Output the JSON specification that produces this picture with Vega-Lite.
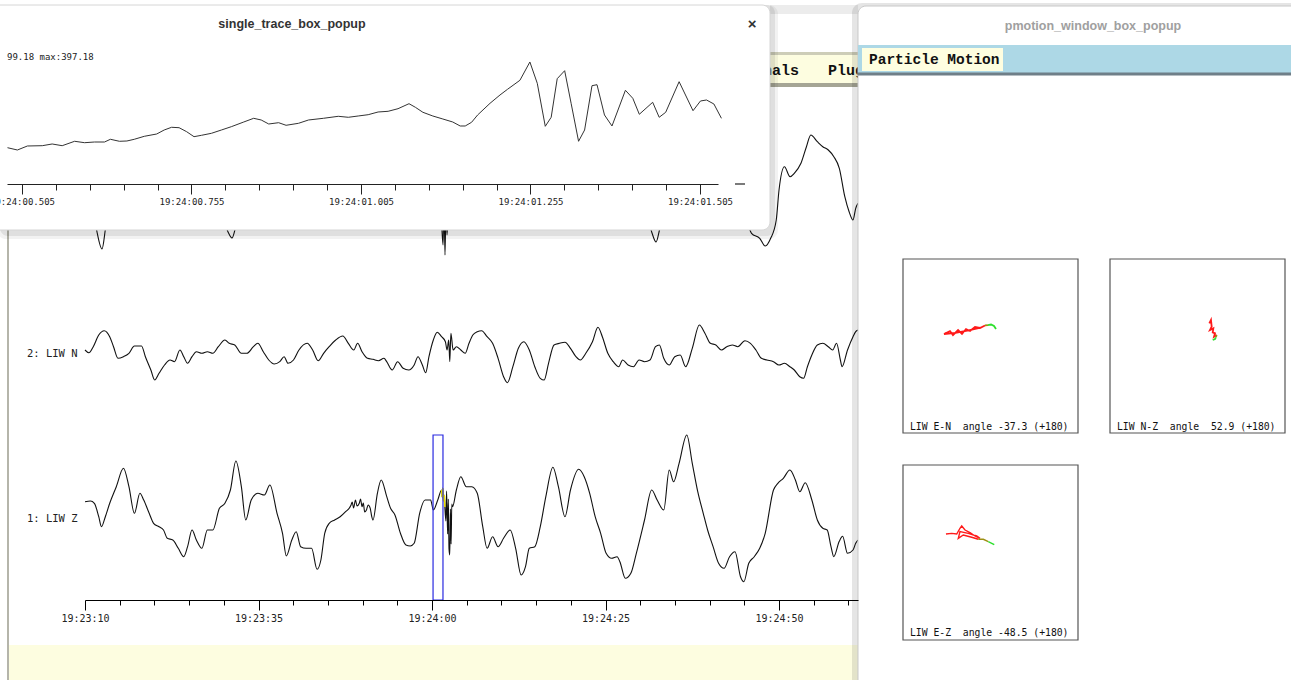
{
"$schema": "https://vega.github.io/schema/vega-lite/v6.json",
"width": 1291, "height": 680,
"autosize": {"type": "none"},
"padding": 0,
"background": "#ffffff",
"config": {"view": {"stroke": null}, "font": "Liberation Sans"},
"data": {"values": [{}]},
"datasets": {
"z": [{"t":0,"amp":17.3},{"t":0.79,"amp":18},{"t":1.35,"amp":15.7},{"t":1.98,"amp":2.3},{"t":2.37,"amp":-7.7},{"t":2.93,"amp":2.3},{"t":3.56,"amp":15.7},{"t":4.51,"amp":32.3},{"t":5.54,"amp":50.7},{"t":6.33,"amp":32.3},{"t":7.12,"amp":5.7},{"t":7.91,"amp":25.7},{"t":8.46,"amp":19},{"t":9.25,"amp":5.7},{"t":9.88,"amp":-4.3},{"t":10.67,"amp":-7.7},{"t":11.31,"amp":-11},{"t":11.86,"amp":-19.3},{"t":12.65,"amp":-21},{"t":13.44,"amp":-29.3},{"t":14.23,"amp":-37.7},{"t":14.78,"amp":-27.7},{"t":15.42,"amp":-11},{"t":16.05,"amp":-21},{"t":16.84,"amp":-29.3},{"t":17.63,"amp":-11},{"t":18.42,"amp":-11},{"t":19.37,"amp":10.7},{"t":20.16,"amp":15.7},{"t":20.95,"amp":29},{"t":21.74,"amp":58},{"t":22.53,"amp":32.3},{"t":23.16,"amp":-1},{"t":23.95,"amp":19},{"t":24.9,"amp":25.7},{"t":25.85,"amp":24},{"t":26.64,"amp":34},{"t":27.67,"amp":5.7},{"t":28.46,"amp":-14.3},{"t":29.01,"amp":-37},{"t":29.8,"amp":-21},{"t":30.43,"amp":-12.7},{"t":31.07,"amp":-27.7},{"t":31.86,"amp":-29.3},{"t":32.65,"amp":-29.3},{"t":33.44,"amp":-50.3},{"t":33.99,"amp":-41},{"t":34.54,"amp":-14.3},{"t":35.18,"amp":-4.3},{"t":35.97,"amp":-1},{"t":36.76,"amp":2.3},{"t":37.55,"amp":7.3},{"t":38.34,"amp":14},{"t":38.5,"amp":17},{"t":38.7,"amp":11},{"t":38.97,"amp":19},{"t":39.2,"amp":13},{"t":39.52,"amp":15.7},{"t":39.7,"amp":20},{"t":39.92,"amp":12.3},{"t":40.1,"amp":16},{"t":40.3,"amp":7},{"t":40.55,"amp":9},{"t":40.8,"amp":14},{"t":41.1,"amp":10.7},{"t":41.3,"amp":3},{"t":41.5,"amp":-1},{"t":42.13,"amp":25.7},{"t":42.68,"amp":39},{"t":43.48,"amp":22.3},{"t":44.03,"amp":10.7},{"t":44.66,"amp":4},{"t":45.45,"amp":-14.3},{"t":46.24,"amp":-26},{"t":46.87,"amp":-27},{"t":47.43,"amp":-24.3},{"t":48.22,"amp":5.7},{"t":49.01,"amp":19},{"t":49.8,"amp":19},{"t":50.19,"amp":9},{"t":50.83,"amp":19},{"t":51.38,"amp":29},{"t":51.45,"amp":22},{"t":51.55,"amp":31},{"t":51.65,"amp":18},{"t":51.77,"amp":24},{"t":51.85,"amp":12},{"t":52.0,"amp":-2},{"t":52.1,"amp":28},{"t":52.25,"amp":-15},{"t":52.35,"amp":20},{"t":52.45,"amp":-30},{"t":52.56,"amp":-36},{"t":52.65,"amp":10},{"t":52.75,"amp":-25},{"t":52.85,"amp":15},{"t":52.96,"amp":12.3},{"t":53.51,"amp":29},{"t":54.15,"amp":42.3},{"t":54.94,"amp":32.3},{"t":55.73,"amp":32.3},{"t":56.52,"amp":25.7},{"t":57.31,"amp":-7.7},{"t":57.94,"amp":-29.3},{"t":58.73,"amp":-17.7},{"t":59.52,"amp":-27.7},{"t":60.31,"amp":-19.3},{"t":61.26,"amp":-11},{"t":62.05,"amp":-29.3},{"t":62.84,"amp":-56},{"t":63.47,"amp":-47.7},{"t":64.02,"amp":-29.3},{"t":64.81,"amp":-27.7},{"t":65.6,"amp":-7.7},{"t":66.4,"amp":22.3},{"t":67.42,"amp":51.7},{"t":68.21,"amp":32.3},{"t":69.16,"amp":2.3},{"t":69.95,"amp":29},{"t":71.14,"amp":49.7},{"t":71.93,"amp":42.3},{"t":72.72,"amp":25.7},{"t":73.51,"amp":2.3},{"t":74.3,"amp":-14.3},{"t":75.09,"amp":-34.3},{"t":75.88,"amp":-39.3},{"t":76.67,"amp":-37.7},{"t":77.07,"amp":-42.7},{"t":77.86,"amp":-59.3},{"t":78.65,"amp":-54.3},{"t":79.44,"amp":-34.3},{"t":80.62,"amp":-1},{"t":81.65,"amp":29},{"t":82.44,"amp":19},{"t":83.39,"amp":9},{"t":84.18,"amp":49},{"t":84.81,"amp":37.3},{"t":85.6,"amp":55.7},{"t":86.71,"amp":84},{"t":87.5,"amp":55.7},{"t":88.29,"amp":27.3},{"t":89.08,"amp":5.7},{"t":89.71,"amp":-11},{"t":90.5,"amp":-27.7},{"t":91.29,"amp":-44.3},{"t":92.08,"amp":-49.3},{"t":92.87,"amp":-37.7},{"t":93.66,"amp":-32.7},{"t":94.45,"amp":-57.7},{"t":94.93,"amp":-62.7},{"t":95.64,"amp":-44.3},{"t":96.43,"amp":-37.7},{"t":97.22,"amp":-29.3},{"t":98.01,"amp":-14.3},{"t":99.2,"amp":29},{"t":99.83,"amp":35.7},{"t":100.62,"amp":40.7},{"t":101.57,"amp":49},{"t":102.36,"amp":39},{"t":102.99,"amp":27.3},{"t":103.78,"amp":36.3},{"t":104.73,"amp":19},{"t":105.52,"amp":-1},{"t":106.31,"amp":-9.3},{"t":106.94,"amp":-11},{"t":107.49,"amp":-27.7},{"t":107.89,"amp":-37.7},{"t":108.68,"amp":-22.3},{"t":109.16,"amp":-17.3},{"t":109.87,"amp":-34.3},{"t":110.66,"amp":-31},{"t":111.05,"amp":-24.3},{"t":111.37,"amp":-21}],
"n": [{"t":0,"amp":4},{"t":0.56,"amp":1.3},{"t":1.19,"amp":7.3},{"t":1.98,"amp":19},{"t":2.77,"amp":23.3},{"t":3.56,"amp":17.3},{"t":4.11,"amp":7.3},{"t":4.75,"amp":-4.3},{"t":5.54,"amp":-2.7},{"t":6.33,"amp":0.7},{"t":7.12,"amp":8},{"t":8.14,"amp":8},{"t":8.7,"amp":-2.7},{"t":9.49,"amp":-16},{"t":10.04,"amp":-26},{"t":10.67,"amp":-19.3},{"t":11.46,"amp":-11},{"t":12.25,"amp":-6},{"t":12.89,"amp":-7.7},{"t":13.68,"amp":4},{"t":14.23,"amp":-2.7},{"t":14.78,"amp":-9.3},{"t":15.42,"amp":-2.7},{"t":16.05,"amp":2.3},{"t":16.84,"amp":0.7},{"t":17.63,"amp":2.3},{"t":18.42,"amp":0.7},{"t":19.21,"amp":7.3},{"t":20.16,"amp":14},{"t":20.79,"amp":10.7},{"t":21.58,"amp":9},{"t":22.53,"amp":0.7},{"t":23.32,"amp":0.7},{"t":24.27,"amp":7.3},{"t":24.9,"amp":10.7},{"t":25.69,"amp":2.3},{"t":26.48,"amp":-6},{"t":27.27,"amp":-10},{"t":28.06,"amp":-7.7},{"t":28.69,"amp":-2.7},{"t":29.25,"amp":-9.3},{"t":30.04,"amp":-6},{"t":30.83,"amp":4},{"t":32.01,"amp":10.7},{"t":32.8,"amp":4},{"t":33.59,"amp":-6.7},{"t":34.38,"amp":0.7},{"t":35.18,"amp":7.3},{"t":36.12,"amp":14},{"t":37.15,"amp":18},{"t":37.94,"amp":10.7},{"t":38.73,"amp":4},{"t":39.28,"amp":10.7},{"t":39.92,"amp":2.3},{"t":40.71,"amp":-4.3},{"t":41.5,"amp":-5.3},{"t":42.29,"amp":-6.7},{"t":43.08,"amp":-4.3},{"t":43.47,"amp":-7.7},{"t":44.26,"amp":-16},{"t":45.05,"amp":-7.7},{"t":45.84,"amp":-14.3},{"t":46.64,"amp":-16},{"t":47.43,"amp":-11},{"t":47.98,"amp":-2.7},{"t":48.61,"amp":-11},{"t":49.09,"amp":-18.7},{"t":49.56,"amp":-2.7},{"t":50.19,"amp":14},{"t":50.75,"amp":21.7},{"t":51.38,"amp":17.3},{"t":51.93,"amp":12.3},{"t":52.17,"amp":4},{"t":52.41,"amp":14},{"t":52.56,"amp":-7.7},{"t":52.72,"amp":20.7},{"t":53.04,"amp":4},{"t":53.51,"amp":7.3},{"t":54.15,"amp":4},{"t":54.78,"amp":0.7},{"t":55.33,"amp":10.7},{"t":55.88,"amp":19},{"t":56.52,"amp":22.3},{"t":57.15,"amp":23.3},{"t":57.94,"amp":17.3},{"t":58.73,"amp":10.7},{"t":59.52,"amp":-4.3},{"t":60.31,"amp":-22.7},{"t":60.86,"amp":-28.7},{"t":61.65,"amp":-12.7},{"t":62.44,"amp":5.7},{"t":63.23,"amp":12.3},{"t":64.02,"amp":4},{"t":64.81,"amp":-12.7},{"t":65.6,"amp":-24.3},{"t":66.16,"amp":-26},{"t":66.79,"amp":-9.3},{"t":67.58,"amp":9},{"t":68.37,"amp":10.7},{"t":69.16,"amp":11.7},{"t":69.95,"amp":5.7},{"t":70.74,"amp":-2.7},{"t":71.37,"amp":-6},{"t":72.16,"amp":0.7},{"t":73.12,"amp":12.3},{"t":73.91,"amp":26.7},{"t":74.54,"amp":17.3},{"t":75.33,"amp":0.7},{"t":76.12,"amp":-7.7},{"t":76.91,"amp":-12.7},{"t":77.46,"amp":-6},{"t":78.25,"amp":-11},{"t":79.04,"amp":-12.7},{"t":79.83,"amp":-6},{"t":80.62,"amp":-7.7},{"t":81.41,"amp":-6},{"t":82.2,"amp":7.3},{"t":82.76,"amp":9},{"t":83.39,"amp":-4.3},{"t":84.18,"amp":-11},{"t":84.97,"amp":-2.7},{"t":85.76,"amp":-1},{"t":86.55,"amp":-12.7},{"t":87.5,"amp":5.7},{"t":88.52,"amp":29},{"t":89.32,"amp":20.7},{"t":90.11,"amp":10.7},{"t":90.9,"amp":9},{"t":91.69,"amp":4},{"t":92.48,"amp":7.3},{"t":93.27,"amp":9},{"t":94.06,"amp":7.3},{"t":95.09,"amp":13.3},{"t":95.88,"amp":10.7},{"t":96.67,"amp":4},{"t":97.46,"amp":-4.3},{"t":98.25,"amp":-6},{"t":99.2,"amp":-7.7},{"t":99.99,"amp":-11},{"t":100.78,"amp":-9.3},{"t":101.57,"amp":-12.7},{"t":102.2,"amp":-16},{"t":102.99,"amp":-22.7},{"t":103.54,"amp":-24.3},{"t":104.09,"amp":-12.7},{"t":104.73,"amp":-1},{"t":105.52,"amp":9},{"t":106.31,"amp":10.7},{"t":107.1,"amp":7.3},{"t":107.73,"amp":4},{"t":108.29,"amp":10.7},{"t":108.84,"amp":-6},{"t":109.08,"amp":-12.7},{"t":109.87,"amp":4},{"t":110.66,"amp":17.3},{"t":111.05,"amp":22.3},{"t":111.37,"amp":24}],
"e": [{"t":0,"amp":0},{"t":1.01,"amp":-10},{"t":1.73,"amp":-42},{"t":2.45,"amp":-59},{"t":3.03,"amp":-35},{"t":4.32,"amp":0},{"t":7.93,"amp":15},{"t":12.25,"amp":5},{"t":16.57,"amp":-10},{"t":19.74,"amp":-25},{"t":20.61,"amp":-42},{"t":21.18,"amp":-48},{"t":21.76,"amp":-36},{"t":23.78,"amp":-5},{"t":29.54,"amp":10},{"t":35.3,"amp":15},{"t":41.07,"amp":0},{"t":46.83,"amp":5},{"t":50.43,"amp":-10},{"t":51.3,"amp":-25},{"t":51.59,"amp":-55},{"t":51.73,"amp":-10},{"t":51.87,"amp":-65},{"t":52.02,"amp":-15},{"t":52.16,"amp":-45},{"t":52.45,"amp":-5},{"t":55.48,"amp":20},{"t":61.24,"amp":10},{"t":67.0,"amp":15},{"t":72.77,"amp":10},{"t":78.53,"amp":0},{"t":80.98,"amp":-25},{"t":81.7,"amp":-43},{"t":82.28,"amp":-52},{"t":82.85,"amp":-38},{"t":85.73,"amp":10},{"t":91.5,"amp":30},{"t":95.1,"amp":-25},{"t":96.04,"amp":-43.3},{"t":97.22,"amp":-48.3},{"t":98.01,"amp":-56},{"t":98.8,"amp":-48.3},{"t":99.6,"amp":-30},{"t":100.0,"amp":0},{"t":100.78,"amp":23.3},{"t":101.59,"amp":13.3},{"t":102.2,"amp":16.7},{"t":103.16,"amp":26.7},{"t":103.95,"amp":43.3},{"t":104.58,"amp":55},{"t":105.52,"amp":48.3},{"t":106.31,"amp":43.3},{"t":107.1,"amp":40},{"t":107.9,"amp":33.3},{"t":108.69,"amp":21.7},{"t":109.48,"amp":-6.7},{"t":110.1,"amp":-21.7},{"t":110.66,"amp":-30},{"t":111.05,"amp":-18.3},{"t":111.38,"amp":-13.3}],
"sel": [{"start": 50.15, "end": 51.58}],
"popup": [{"t":0.4836,"amp":-86.2},{"t":0.4982,"amp":-99.2},{"t":0.513,"amp":-76.6},{"t":0.5349,"amp":-74.9},{"t":0.5495,"amp":-65.3},{"t":0.5643,"amp":-74.9},{"t":0.5826,"amp":-50.1},{"t":0.5973,"amp":-58.0},{"t":0.6119,"amp":-54.1},{"t":0.6267,"amp":-54.1},{"t":0.6354,"amp":-38.8},{"t":0.6487,"amp":-50.1},{"t":0.6597,"amp":-48.4},{"t":0.6706,"amp":-38.8},{"t":0.6854,"amp":-21.9},{"t":0.7037,"amp":-8.9},{"t":0.7147,"amp":13.6},{"t":0.7256,"amp":28.9},{"t":0.7367,"amp":26.6},{"t":0.7478,"amp":4.1},{"t":0.7587,"amp":-24.1},{"t":0.7698,"amp":-16.2},{"t":0.7844,"amp":-5.0},{"t":0.7991,"amp":13.6},{"t":0.8137,"amp":32.3},{"t":0.8321,"amp":58.8},{"t":0.8467,"amp":79.6},{"t":0.8578,"amp":70.1},{"t":0.8689,"amp":47.5},{"t":0.8835,"amp":54.8},{"t":0.8945,"amp":40.2},{"t":0.9128,"amp":51.4},{"t":0.9276,"amp":70.1},{"t":0.9495,"amp":79.6},{"t":0.9715,"amp":90.9},{"t":0.9863,"amp":85.3},{"t":1.0009,"amp":92.6},{"t":1.0156,"amp":99.9},{"t":1.0302,"amp":115.2},{"t":1.045,"amp":119.1},{"t":1.0596,"amp":133.8},{"t":1.0758,"amp":162.0},{"t":1.0852,"amp":141.7},{"t":1.0963,"amp":113.5},{"t":1.1109,"amp":92.6},{"t":1.1257,"amp":75.7},{"t":1.1403,"amp":58.8},{"t":1.1513,"amp":36.2},{"t":1.1587,"amp":36.2},{"t":1.1681,"amp":57.1},{"t":1.177,"amp":98.3},{"t":1.1953,"amp":164.2},{"t":1.21,"amp":211.1},{"t":1.2211,"amp":243.2},{"t":1.2394,"amp":294.0},{"t":1.2541,"amp":397.2},{"t":1.265,"amp":277.1},{"t":1.2768,"amp":34.5},{"t":1.2855,"amp":85.3},{"t":1.2944,"amp":303.0},{"t":1.3054,"amp":348.1},{"t":1.3149,"amp":164.2},{"t":1.3259,"amp":-50.1},{"t":1.3348,"amp":13.6},{"t":1.3457,"amp":263.5},{"t":1.3531,"amp":269.2},{"t":1.3641,"amp":98.3},{"t":1.3752,"amp":36.2},{"t":1.395,"amp":237.6},{"t":1.4059,"amp":192.4},{"t":1.4155,"amp":102.2},{"t":1.4352,"amp":169.9},{"t":1.4448,"amp":85.3},{"t":1.4544,"amp":113.5},{"t":1.4742,"amp":286.1},{"t":1.4947,"amp":122.5},{"t":1.5057,"amp":177.2},{"t":1.5146,"amp":182.9},{"t":1.5255,"amp":160.3},{"t":1.5366,"amp":79.6}],
"pm": [
{"box":"b1","seg":"red","i":0,"x":-0.10,"y":0.215},{"box":"b1","seg":"red","i":1,"x":-0.25,"y":0.18},{"box":"b1","seg":"red","i":2,"x":-0.40,"y":0.15},{"box":"b1","seg":"red","i":3,"x":-0.531,"y":0.138},{"box":"b1","seg":"red","i":4,"x":-0.463,"y":0.172},{"box":"b1","seg":"red","i":5,"x":-0.429,"y":0.126},{"box":"b1","seg":"red","i":6,"x":-0.371,"y":0.184},{"box":"b1","seg":"red","i":7,"x":-0.326,"y":0.138},{"box":"b1","seg":"red","i":8,"x":-0.28,"y":0.195},{"box":"b1","seg":"red","i":9,"x":-0.234,"y":0.172},{"box":"b1","seg":"red","i":10,"x":-0.177,"y":0.218},{"box":"b1","seg":"red","i":11,"x":-0.12,"y":0.207},{"box":"b1","seg":"red","i":12,"x":-0.063,"y":0.236},
{"box":"b1","seg":"mid","i":12,"x":-0.063,"y":0.236},{"box":"b1","seg":"mid","i":13,"x":-0.029,"y":0.241},
{"box":"b1","seg":"green","i":13,"x":-0.029,"y":0.241},{"box":"b1","seg":"green","i":14,"x":0.006,"y":0.247},{"box":"b1","seg":"green","i":15,"x":0.04,"y":0.23},{"box":"b1","seg":"green","i":16,"x":0.063,"y":0.195},
{"box":"b2","seg":"red","i":0,"x":0.135,"y":0.261},{"box":"b2","seg":"red","i":1,"x":0.154,"y":0.299},{"box":"b2","seg":"red","i":2,"x":0.162,"y":0.222},{"box":"b2","seg":"red","i":3,"x":0.143,"y":0.184},{"box":"b2","seg":"red","i":4,"x":0.181,"y":0.203},{"box":"b2","seg":"red","i":5,"x":0.174,"y":0.157},{"box":"b2","seg":"red","i":6,"x":0.2,"y":0.146},{"box":"b2","seg":"red","i":7,"x":0.189,"y":0.107},{"box":"b2","seg":"red","i":8,"x":0.219,"y":0.126},
{"box":"b2","seg":"mid","i":8,"x":0.219,"y":0.126},{"box":"b2","seg":"mid","i":9,"x":0.21,"y":0.10},
{"box":"b2","seg":"green","i":9,"x":0.21,"y":0.10},{"box":"b2","seg":"green","i":10,"x":0.2,"y":0.08},{"box":"b2","seg":"green","i":11,"x":0.174,"y":0.069},
{"box":"b3","seg":"red","i":0,"x":-0.509,"y":0.211},{"box":"b3","seg":"red","i":1,"x":-0.443,"y":0.219},{"box":"b3","seg":"red","i":2,"x":-0.386,"y":0.211},{"box":"b3","seg":"red","i":3,"x":-0.349,"y":0.277},{"box":"b3","seg":"red","i":4,"x":-0.329,"y":0.303},{"box":"b3","seg":"red","i":5,"x":-0.291,"y":0.257},{"box":"b3","seg":"red","i":6,"x":-0.234,"y":0.226},{"box":"b3","seg":"red","i":7,"x":-0.177,"y":0.189},{"box":"b3","seg":"red","i":8,"x":-0.12,"y":0.162},{"box":"b3","seg":"red","i":9,"x":-0.158,"y":0.189},{"box":"b3","seg":"red","i":10,"x":-0.254,"y":0.219},{"box":"b3","seg":"red","i":11,"x":-0.349,"y":0.238},{"box":"b3","seg":"red","i":12,"x":-0.368,"y":0.162},{"box":"b3","seg":"red","i":13,"x":-0.311,"y":0.2},{"box":"b3","seg":"red","i":14,"x":-0.215,"y":0.174},{"box":"b3","seg":"red","i":15,"x":-0.139,"y":0.151},
{"box":"b3","seg":"mid","i":15,"x":-0.139,"y":0.151},{"box":"b3","seg":"mid","i":16,"x":-0.082,"y":0.151},{"box":"b3","seg":"mid","i":17,"x":-0.025,"y":0.123},
{"box":"b3","seg":"green","i":17,"x":-0.025,"y":0.123},{"box":"b3","seg":"green","i":18,"x":0.014,"y":0.105},{"box":"b3","seg":"green","i":19,"x":0.043,"y":0.089}
]
},
"resolve": {"scale": {"x": "independent", "y": "independent", "color": "independent"}},
"layer": [
{
"resolve": {"scale": {"y": "independent"}},
"layer": [
{"layer": [
{"mark": {"type": "rect", "color": "#ececec"}, "encoding": {"x": {"datum": 98.7, "type": "quantitative", "scale": {"domain": [0, 111.38], "range": [85, 858], "nice": false, "zero": false}, "axis": null}, "x2": {"datum": 111.38}, "y": {"datum": 514, "type": "quantitative", "scale": {"domain": [-100, 100], "range": [619, 419], "nice": false, "zero": false}, "axis": null}, "y2": {"datum": 505}}},
{"mark": {"type": "rect", "color": "#cdcdb8"}, "encoding": {"x": {"datum": 98.7, "type": "quantitative", "scale": {"domain": [0, 111.38], "range": [85, 858], "nice": false, "zero": false}, "axis": null}, "x2": {"datum": 111.38}, "y": {"datum": 467, "type": "quantitative", "scale": {"domain": [-100, 100], "range": [619, 419], "nice": false, "zero": false}, "axis": null}, "y2": {"datum": 464}}},
{"mark": {"type": "rect", "color": "#fdfde0"}, "encoding": {"x": {"datum": 98.7, "type": "quantitative", "scale": {"domain": [0, 111.38], "range": [85, 858], "nice": false, "zero": false}, "axis": null}, "x2": {"datum": 111.38}, "y": {"datum": 464, "type": "quantitative", "scale": {"domain": [-100, 100], "range": [619, 419], "nice": false, "zero": false}, "axis": null}, "y2": {"datum": 436}}},
{"mark": {"type": "rect", "color": "#a5a595"}, "encoding": {"x": {"datum": 98.7, "type": "quantitative", "scale": {"domain": [0, 111.38], "range": [85, 858], "nice": false, "zero": false}, "axis": null}, "x2": {"datum": 111.38}, "y": {"datum": 436, "type": "quantitative", "scale": {"domain": [-100, 100], "range": [619, 419], "nice": false, "zero": false}, "axis": null}, "y2": {"datum": 432}}},
{"mark": {"type": "text", "text": "Signals", "align": "right", "baseline": "middle", "font": "Liberation Mono", "fontWeight": "bold", "fontSize": 15, "color": "#111"}, "encoding": {"x": {"datum": 102.88, "type": "quantitative", "scale": {"domain": [0, 111.38], "range": [85, 858], "nice": false, "zero": false}, "axis": null}, "y": {"datum": 449, "type": "quantitative", "scale": {"domain": [-100, 100], "range": [619, 419], "nice": false, "zero": false}, "axis": null}}},
{"mark": {"type": "text", "text": "Plug", "align": "left", "baseline": "middle", "font": "Liberation Mono", "fontWeight": "bold", "fontSize": 15, "color": "#111"}, "encoding": {"x": {"datum": 107.06, "type": "quantitative", "scale": {"domain": [0, 111.38], "range": [85, 858], "nice": false, "zero": false}, "axis": null}, "y": {"datum": 449, "type": "quantitative", "scale": {"domain": [-100, 100], "range": [619, 419], "nice": false, "zero": false}, "axis": null}}},
{"mark": {"type": "rule", "color": "#a3a396", "strokeWidth": 1.6}, "encoding": {"x": {"datum": -11.095, "type": "quantitative", "scale": {"domain": [0, 111.38], "range": [85, 858], "nice": false, "zero": false}, "axis": null}, "y": {"datum": 444, "type": "quantitative", "scale": {"domain": [-100, 100], "range": [619, 419], "nice": false, "zero": false}, "axis": null}, "y2": {"datum": -161}}},
{"mark": {"type": "rect", "color": "#fdfde0"}, "encoding": {"x": {"datum": -10.95, "type": "quantitative", "scale": {"domain": [0, 111.38], "range": [85, 858], "nice": false, "zero": false}, "axis": null}, "x2": {"datum": 111.38}, "y": {"datum": -126, "type": "quantitative", "scale": {"domain": [-100, 100], "range": [619, 419], "nice": false, "zero": false}, "axis": null}, "y2": {"datum": -161}}},
{"data": {"name": "z"}, "mark": {"type": "line", "color": "#111", "strokeWidth": 1.1, "interpolate": "monotone"}, "encoding": {"x": {"field": "t", "type": "quantitative", "scale": {"domain": [0, 111.38], "range": [85, 858], "nice": false, "zero": false}, "axis": null}, "y": {"field": "amp", "type": "quantitative", "scale": {"domain": [-100, 100], "range": [619, 419], "nice": false, "zero": false}, "axis": null}}},
{"data": {"name": "z"}, "transform": [{"filter": "datum.t >= 51.38 && datum.t <= 51.85"}], "mark": {"type": "line", "color": "#ece000", "strokeWidth": 1.5}, "encoding": {"x": {"field": "t", "type": "quantitative", "scale": {"domain": [0, 111.38], "range": [85, 858], "nice": false, "zero": false}, "axis": null}, "y": {"field": "amp", "type": "quantitative", "scale": {"domain": [-100, 100], "range": [619, 419], "nice": false, "zero": false}, "axis": null}}},
{"data": {"name": "sel"}, "mark": {"type": "rect", "fill": "transparent", "stroke": "#2a2ae0", "strokeWidth": 1.2}, "encoding": {"x": {"field": "start", "type": "quantitative", "scale": {"domain": [0, 111.38], "range": [85, 858], "nice": false, "zero": false}, "axis": null}, "x2": {"field": "end"}, "y": {"datum": 84, "type": "quantitative", "scale": {"domain": [-100, 100], "range": [619, 419], "nice": false, "zero": false}, "axis": null}, "y2": {"datum": -81}}},
{"mark": {"type": "text", "text": "1: LIW Z", "align": "left", "baseline": "middle", "font": "DejaVu Sans Mono", "fontSize": 10.5, "color": "#222"}, "encoding": {"x": {"datum": -8.357, "type": "quantitative", "scale": {"domain": [0, 111.38], "range": [85, 858], "nice": false, "zero": false}, "axis": null}, "y": {"datum": 0, "type": "quantitative", "scale": {"domain": [-100, 100], "range": [619, 419], "nice": false, "zero": false}, "axis": null}}}
]},
{"layer": [
{"data": {"name": "n"}, "mark": {"type": "line", "color": "#111", "strokeWidth": 1.1, "interpolate": "monotone"}, "encoding": {"x": {"field": "t", "type": "quantitative", "scale": {"domain": [0, 111.38], "range": [85, 858], "nice": false, "zero": false}, "axis": null}, "y": {"field": "amp", "type": "quantitative", "scale": {"domain": [-100, 100], "range": [454, 254], "nice": false, "zero": false}, "axis": null}}},
{"mark": {"type": "text", "text": "2: LIW N", "align": "left", "baseline": "middle", "font": "DejaVu Sans Mono", "fontSize": 10.5, "color": "#222"}, "encoding": {"x": {"datum": -8.357, "type": "quantitative", "scale": {"domain": [0, 111.38], "range": [85, 858], "nice": false, "zero": false}, "axis": null}, "y": {"datum": 0, "type": "quantitative", "scale": {"domain": [-100, 100], "range": [454, 254], "nice": false, "zero": false}, "axis": null}}}
]},
{"data": {"name": "e"}, "mark": {"type": "line", "color": "#111", "strokeWidth": 1.1, "interpolate": "monotone"}, "encoding": {"x": {"field": "t", "type": "quantitative", "scale": {"domain": [0, 111.38], "range": [85, 858], "nice": false, "zero": false}, "axis": null}, "y": {"field": "amp", "type": "quantitative", "scale": {"domain": [-100, 100], "range": [290, 90], "nice": false, "zero": false}, "axis": null}}}
]
},
{
"layer": [
{"mark": {"type": "rect", "color": "#000", "opacity": 0.05, "cornerRadius": 9}, "encoding": {"x": {"datum": 0.46813, "type": "quantitative", "scale": {"domain": [0.48288, 1.53155], "range": [7, 718], "nice": false, "zero": false}, "axis": null}, "x2": {"datum": 1.62006}, "y": {"datum": 718.69, "type": "quantitative", "scale": {"domain": [-300, 420], "range": [185.6, 57.954], "nice": false, "zero": false}, "axis": null}, "y2": {"datum": -601.19}}},
{"mark": {"type": "rect", "color": "#000", "opacity": 0.08, "cornerRadius": 8}, "encoding": {"x": {"datum": 0.47255, "type": "quantitative", "scale": {"domain": [0.48288, 1.53155], "range": [7, 718], "nice": false, "zero": false}, "axis": null}, "x2": {"datum": 1.61563}, "y": {"datum": 718.69, "type": "quantitative", "scale": {"domain": [-300, 420], "range": [185.6, 57.954], "nice": false, "zero": false}, "axis": null}, "y2": {"datum": -584.27}}},
{"mark": {"type": "rect", "fill": "#ffffff", "stroke": "#d6d6d6", "strokeWidth": 1, "cornerRadius": 8}, "encoding": {"x": {"datum": 0.4578, "type": "quantitative", "scale": {"domain": [0.48288, 1.53155], "range": [7, 718], "nice": false, "zero": false}, "axis": null}, "x2": {"datum": 1.60825}, "y": {"datum": 718.69, "type": "quantitative", "scale": {"domain": [-300, 420], "range": [185.6, 57.954], "nice": false, "zero": false}, "axis": null}, "y2": {"datum": -550.42}}},
{"mark": {"type": "text", "text": "single_trace_box_popup", "align": "center", "baseline": "middle", "font": "Liberation Sans", "fontWeight": "bold", "fontSize": 12.5, "color": "#333"}, "encoding": {"x": {"datum": 0.90323, "type": "quantitative", "scale": {"domain": [0.48288, 1.53155], "range": [7, 718], "nice": false, "zero": false}, "axis": null}, "y": {"datum": 611.52, "type": "quantitative", "scale": {"domain": [-300, 420], "range": [185.6, 57.954], "nice": false, "zero": false}, "axis": null}}},
{"mark": {"type": "text", "text": "×", "align": "center", "baseline": "middle", "font": "Liberation Sans", "fontWeight": "bold", "fontSize": 15, "color": "#333"}, "encoding": {"x": {"datum": 1.5817, "type": "quantitative", "scale": {"domain": [0.48288, 1.53155], "range": [7, 718], "nice": false, "zero": false}, "axis": null}, "y": {"datum": 611.52, "type": "quantitative", "scale": {"domain": [-300, 420], "range": [185.6, 57.954], "nice": false, "zero": false}, "axis": null}}},
{"mark": {"type": "text", "text": "99.18 max:397.18", "align": "left", "baseline": "middle", "font": "DejaVu Sans Mono", "fontSize": 9, "color": "#222"}, "encoding": {"x": {"datum": 0.48288, "type": "quantitative", "scale": {"domain": [0.48288, 1.53155], "range": [7, 718], "nice": false, "zero": false}, "axis": null}, "y": {"datum": 425.38, "type": "quantitative", "scale": {"domain": [-300, 420], "range": [185.6, 57.954], "nice": false, "zero": false}, "axis": null}}},
{"data": {"name": "popup"}, "mark": {"type": "line", "color": "#333", "strokeWidth": 1}, "encoding": {"x": {"field": "t", "type": "quantitative", "scale": {"domain": [0.48288, 1.53155], "range": [7, 718], "nice": false, "zero": false}, "axis": null}, "y": {"field": "amp", "type": "quantitative", "scale": {"domain": [-300, 420], "range": [185.6, 57.954], "nice": false, "zero": false}, "axis": null}}},
{"mark": {"type": "rule", "color": "#222", "strokeWidth": 1.2}, "encoding": {"x": {"datum": 1.55662, "type": "quantitative", "scale": {"domain": [0.48288, 1.53155], "range": [7, 718], "nice": false, "zero": false}, "axis": null}, "x2": {"datum": 1.57137}, "y": {"datum": -290.96, "type": "quantitative", "scale": {"domain": [-300, 420], "range": [185.6, 57.954], "nice": false, "zero": false}, "axis": null}}}
]
},
{
"resolve": {"scale": {"x": "independent", "y": "independent"}},
"layer": [
{"layer": [
{"mark": {"type": "rect", "color": "#000", "opacity": 0.1, "cornerRadius": 10}, "encoding": {"x": {"datum": -1.5829, "type": "quantitative", "scale": {"domain": [-1, 1], "range": [903, 1078], "nice": false, "zero": false}, "axis": null}, "x2": {"datum": 3.6}, "y": {"datum": 3.9425, "type": "quantitative", "scale": {"domain": [-1, 1], "range": [433, 259], "nice": false, "zero": false}, "axis": null}, "y2": {"datum": -4.0}}},
{"mark": {"type": "rect", "fill": "#ffffff", "stroke": "#c8c8c8", "strokeWidth": 1, "cornerRadius": 8}, "encoding": {"x": {"datum": -1.5143, "type": "quantitative", "scale": {"domain": [-1, 1], "range": [903, 1078], "nice": false, "zero": false}, "axis": null}, "x2": {"datum": 3.6}, "y": {"datum": 3.908, "type": "quantitative", "scale": {"domain": [-1, 1], "range": [433, 259], "nice": false, "zero": false}, "axis": null}, "y2": {"datum": -4.0}}},
{"mark": {"type": "text", "text": "pmotion_window_box_popup", "align": "center", "baseline": "middle", "font": "Liberation Sans", "fontWeight": "bold", "fontSize": 12.5, "color": "#a0a0a0"}, "encoding": {"x": {"datum": 1.1714, "type": "quantitative", "scale": {"domain": [-1, 1], "range": [903, 1078], "nice": false, "zero": false}, "axis": null}, "y": {"datum": 3.6782, "type": "quantitative", "scale": {"domain": [-1, 1], "range": [433, 259], "nice": false, "zero": false}, "axis": null}}},
{"mark": {"type": "rect", "color": "#add8e6"}, "encoding": {"x": {"datum": -1.5143, "type": "quantitative", "scale": {"domain": [-1, 1], "range": [903, 1078], "nice": false, "zero": false}, "axis": null}, "x2": {"datum": 3.6}, "y": {"datum": 3.4598, "type": "quantitative", "scale": {"domain": [-1, 1], "range": [433, 259], "nice": false, "zero": false}, "axis": null}, "y2": {"datum": 3.1379}}},
{"mark": {"type": "rect", "color": "#6f7f88"}, "encoding": {"x": {"datum": -1.5143, "type": "quantitative", "scale": {"domain": [-1, 1], "range": [903, 1078], "nice": false, "zero": false}, "axis": null}, "x2": {"datum": 3.6}, "y": {"datum": 3.1437, "type": "quantitative", "scale": {"domain": [-1, 1], "range": [433, 259], "nice": false, "zero": false}, "axis": null}, "y2": {"datum": 3.1092}}},
{"mark": {"type": "rect", "color": "#fefee0"}, "encoding": {"x": {"datum": -1.4686, "type": "quantitative", "scale": {"domain": [-1, 1], "range": [903, 1078], "nice": false, "zero": false}, "axis": null}, "x2": {"datum": 0.1429}, "y": {"datum": 3.4253, "type": "quantitative", "scale": {"domain": [-1, 1], "range": [433, 259], "nice": false, "zero": false}, "axis": null}, "y2": {"datum": 3.1609}}},
{"mark": {"type": "text", "text": "Particle Motion", "align": "left", "baseline": "middle", "font": "Liberation Mono", "fontWeight": "bold", "fontSize": 14.5, "color": "#111"}, "encoding": {"x": {"datum": -1.3886, "type": "quantitative", "scale": {"domain": [-1, 1], "range": [903, 1078], "nice": false, "zero": false}, "axis": null}, "y": {"datum": 3.2874, "type": "quantitative", "scale": {"domain": [-1, 1], "range": [433, 259], "nice": false, "zero": false}, "axis": null}}},
{"mark": {"type": "rect", "fill": "#ffffff", "stroke": "#555", "strokeWidth": 1.2}, "encoding": {"x": {"datum": -1, "type": "quantitative", "scale": {"domain": [-1, 1], "range": [903, 1078], "nice": false, "zero": false}, "axis": null}, "x2": {"datum": 1}, "y": {"datum": -1, "type": "quantitative", "scale": {"domain": [-1, 1], "range": [433, 259], "nice": false, "zero": false}, "axis": null}, "y2": {"datum": 1}}},
{"data": {"name": "pm"}, "transform": [{"filter": "datum.box === 'b1'"}], "mark": {"type": "line", "strokeWidth": 1.8}, "encoding": {"x": {"field": "x", "type": "quantitative", "scale": {"domain": [-1, 1], "range": [903, 1078], "nice": false, "zero": false}, "axis": null}, "y": {"field": "y", "type": "quantitative", "scale": {"domain": [-1, 1], "range": [433, 259], "nice": false, "zero": false}, "axis": null}, "color": {"field": "seg", "type": "nominal", "scale": {"domain": ["red", "mid", "green"], "range": ["#ff1a1a", "#9c8f14", "#2ee02e"]}, "legend": null}, "order": {"field": "i"}}},
{"mark": {"type": "text", "text": "LIW E-N \u00a0angle -37.3 (+180)", "align": "left", "baseline": "middle", "font": "DejaVu Sans Mono", "fontSize": 9.75, "color": "#111"}, "encoding": {"x": {"datum": -0.92, "type": "quantitative", "scale": {"domain": [-1, 1], "range": [903, 1078], "nice": false, "zero": false}, "axis": null}, "y": {"datum": -0.931, "type": "quantitative", "scale": {"domain": [-1, 1], "range": [433, 259], "nice": false, "zero": false}, "axis": null}}}
]},
{"layer": [
{"mark": {"type": "rect", "fill": "#ffffff", "stroke": "#555", "strokeWidth": 1.2}, "encoding": {"x": {"datum": -1, "type": "quantitative", "scale": {"domain": [-1, 1], "range": [1110, 1285], "nice": false, "zero": false}, "axis": null}, "x2": {"datum": 1}, "y": {"datum": -1, "type": "quantitative", "scale": {"domain": [-1, 1], "range": [433, 259], "nice": false, "zero": false}, "axis": null}, "y2": {"datum": 1}}},
{"data": {"name": "pm"}, "transform": [{"filter": "datum.box === 'b2'"}], "mark": {"type": "line", "strokeWidth": 1.8}, "encoding": {"x": {"field": "x", "type": "quantitative", "scale": {"domain": [-1, 1], "range": [1110, 1285], "nice": false, "zero": false}, "axis": null}, "y": {"field": "y", "type": "quantitative", "scale": {"domain": [-1, 1], "range": [433, 259], "nice": false, "zero": false}, "axis": null}, "color": {"field": "seg", "type": "nominal", "scale": {"domain": ["red", "mid", "green"], "range": ["#ff1a1a", "#9c8f14", "#2ee02e"]}, "legend": null}, "order": {"field": "i"}}},
{"mark": {"type": "text", "text": "LIW N-Z \u00a0angle \u00a052.9 (+180)", "align": "left", "baseline": "middle", "font": "DejaVu Sans Mono", "fontSize": 9.75, "color": "#111"}, "encoding": {"x": {"datum": -0.92, "type": "quantitative", "scale": {"domain": [-1, 1], "range": [1110, 1285], "nice": false, "zero": false}, "axis": null}, "y": {"datum": -0.931, "type": "quantitative", "scale": {"domain": [-1, 1], "range": [433, 259], "nice": false, "zero": false}, "axis": null}}}
]},
{"layer": [
{"mark": {"type": "rect", "fill": "#ffffff", "stroke": "#555", "strokeWidth": 1.2}, "encoding": {"x": {"datum": -1, "type": "quantitative", "scale": {"domain": [-1, 1], "range": [903, 1078], "nice": false, "zero": false}, "axis": null}, "x2": {"datum": 1}, "y": {"datum": -1, "type": "quantitative", "scale": {"domain": [-1, 1], "range": [640, 465], "nice": false, "zero": false}, "axis": null}, "y2": {"datum": 1}}},
{"data": {"name": "pm"}, "transform": [{"filter": "datum.box === 'b3'"}], "mark": {"type": "line", "strokeWidth": 1.4}, "encoding": {"x": {"field": "x", "type": "quantitative", "scale": {"domain": [-1, 1], "range": [903, 1078], "nice": false, "zero": false}, "axis": null}, "y": {"field": "y", "type": "quantitative", "scale": {"domain": [-1, 1], "range": [640, 465], "nice": false, "zero": false}, "axis": null}, "color": {"field": "seg", "type": "nominal", "scale": {"domain": ["red", "mid", "green"], "range": ["#ff1a1a", "#9c8f14", "#2ee02e"]}, "legend": null}, "order": {"field": "i"}}},
{"mark": {"type": "text", "text": "LIW E-Z \u00a0angle -48.5 (+180)", "align": "left", "baseline": "middle", "font": "DejaVu Sans Mono", "fontSize": 9.75, "color": "#111"}, "encoding": {"x": {"datum": -0.92, "type": "quantitative", "scale": {"domain": [-1, 1], "range": [903, 1078], "nice": false, "zero": false}, "axis": null}, "y": {"datum": -0.92, "type": "quantitative", "scale": {"domain": [-1, 1], "range": [640, 465], "nice": false, "zero": false}, "axis": null}}}
]}
]
},
{"data": {"name": "z"}, "mark": {"type": "line", "opacity": 0}, "encoding": {"x": {"field": "t", "type": "quantitative", "scale": {"domain": [0, 111.38], "range": [85, 858], "nice": false, "zero": false}, "axis": {"orient": "bottom", "offset": -80, "zindex": 1, "values": [0, 25, 50, 75, 100], "labelExpr": "datum.value == 0 ? '19:23:10' : datum.value == 25 ? '19:23:35' : datum.value == 50 ? '19:24:00' : datum.value == 75 ? '19:24:25' : '19:24:50'", "tickSize": 10, "tickColor": "#000", "domainColor": "#000", "domainWidth": 1.2, "tickWidth": 1, "labelFont": "DejaVu Sans Mono", "labelFontSize": 10, "labelColor": "#222", "labelPadding": 3, "labelOverlap": false, "labelFlush": false, "labelBound": false, "grid": false, "title": null}}, "y": {"field": "amp", "type": "quantitative", "scale": {"domain": [-100, 100], "range": [619, 419], "nice": false, "zero": false}, "axis": null}}},
{"data": {"name": "e"}, "mark": {"type": "line", "opacity": 0}, "encoding": {"x": {"field": "t", "type": "quantitative", "scale": {"domain": [0, 111.38], "range": [85, 858], "nice": false, "zero": false}, "axis": {"orient": "bottom", "offset": -80, "zindex": 1, "values": [5,10,15,20,30,35,40,45,55,60,65,70,80,85,90,95,105,110], "tickSize": 5, "tickColor": "#000", "tickWidth": 1, "domain": false, "labels": false, "grid": false, "title": null}}, "y": {"field": "amp", "type": "quantitative", "scale": {"domain": [-100, 100], "range": [290, 90], "nice": false, "zero": false}, "axis": null}}},
{"data": {"name": "popup"}, "mark": {"type": "line", "opacity": 0}, "encoding": {"x": {"field": "t", "type": "quantitative", "scale": {"domain": [0.48288, 1.53155], "range": [7, 718], "nice": false, "zero": false}, "axis": {"orient": "bottom", "offset": -496, "zindex": 1, "values": [0.505, 0.755, 1.005, 1.255, 1.505], "labelExpr": "'19:24:0' + format(datum.value, '.3f')", "tickSize": 10, "tickColor": "#222", "domainColor": "#222", "domainWidth": 1.2, "tickWidth": 1, "labelFont": "DejaVu Sans Mono", "labelFontSize": 9, "labelColor": "#222", "labelPadding": 3, "labelOverlap": false, "labelFlush": false, "labelBound": false, "grid": false, "title": null}}, "y": {"field": "amp", "type": "quantitative", "scale": {"domain": [-300, 420], "range": [185.6, 57.954], "nice": false, "zero": false}, "axis": null}}},
{"data": {"name": "popup"}, "mark": {"type": "line", "opacity": 0}, "encoding": {"x": {"field": "t", "type": "quantitative", "scale": {"domain": [0.48288, 1.53155], "range": [7, 718], "nice": false, "zero": false}, "axis": {"orient": "bottom", "offset": -496, "zindex": 1, "values": [0.555,0.605,0.655,0.705,0.805,0.855,0.905,0.955,1.055,1.105,1.155,1.205,1.305,1.355,1.405,1.455], "tickSize": 6, "tickColor": "#222", "tickWidth": 1, "domain": false, "labels": false, "grid": false, "title": null}}, "y": {"field": "amp", "type": "quantitative", "scale": {"domain": [-300, 420], "range": [185.6, 57.954], "nice": false, "zero": false}, "axis": null}}}
]
}
